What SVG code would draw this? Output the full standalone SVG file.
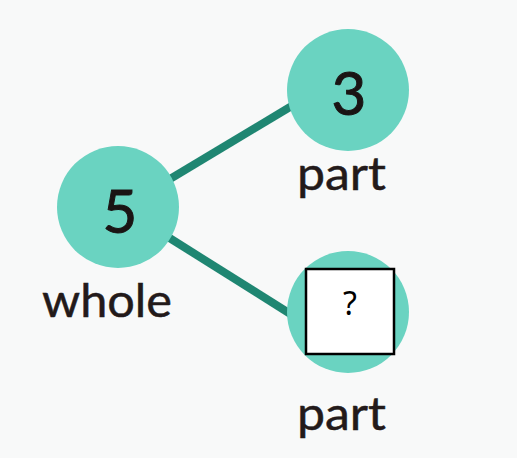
<svg xmlns="http://www.w3.org/2000/svg" width="517" height="458" viewBox="0 0 517 458">
  <style>
    .node { fill: #6ad3c1; }
    .conn { stroke: #1f8672; stroke-width: 8; stroke-linecap: butt; fill: none; }
    .num { font-family: Lato, "Open Sans", sans-serif; font-size: 60px; fill: #1a1414; stroke: #1a1414; stroke-width: 1; text-anchor: middle; }
    .lbl { font-family: Lato, "Open Sans", sans-serif; font-size: 46px; fill: #231a1a; stroke: #231a1a; stroke-width: 0.5; }
    .q { font-family: "Noto Sans", "Liberation Sans", sans-serif; font-size: 32px; fill: #000; text-anchor: middle; }
  </style>
  <rect x="0" y="0" width="517" height="458" fill="#f8f9f9"/>
  <g id="connectors">
    <line class="conn" x1="160" y1="185" x2="300" y2="101"/>
    <line class="conn" x1="160" y1="232" x2="300" y2="320"/>
  </g>
  <g id="node-whole">
    <circle class="node" cx="118" cy="207" r="61"/>
    <text class="num" x="120" y="233">5</text>
    <text class="lbl" x="42" y="317" textLength="130" lengthAdjust="spacingAndGlyphs">whole</text>
  </g>
  <g id="node-part-top">
    <circle class="node" cx="348" cy="90" r="61"/>
    <text class="num" x="349" y="115">3</text>
    <text class="lbl" x="297" y="190" textLength="89" lengthAdjust="spacingAndGlyphs">part</text>
  </g>
  <g id="node-part-bottom">
    <circle class="node" cx="348" cy="312" r="61"/>
    <rect x="306" y="269" width="88" height="85" fill="#ffffff" stroke="#000000" stroke-width="2.5"/>
    <text class="q" x="350" y="315">?</text>
    <text class="lbl" x="297" y="430" textLength="89" lengthAdjust="spacingAndGlyphs">part</text>
  </g>
</svg>
